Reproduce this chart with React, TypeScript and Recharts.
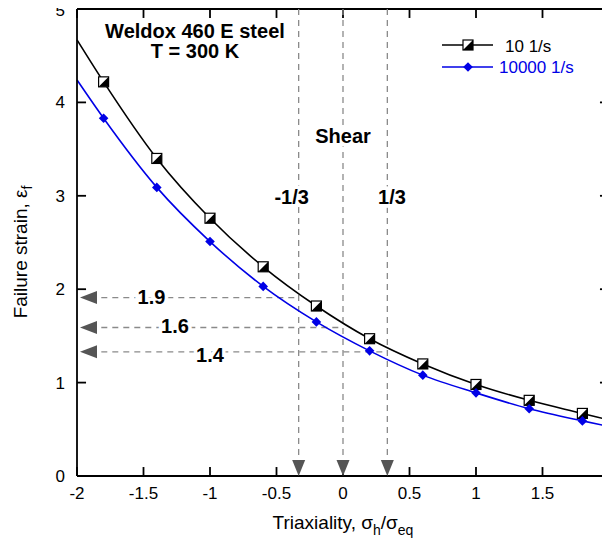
import React from "react"
import {
  ComposedChart,
  Line,
  XAxis,
  YAxis,
  ReferenceLine,
  ReferenceDot,
  Label,
} from "recharts"

// stress triaxiality where the curves are read (ends are fit-only, no marker)
const triaxiality = [-2, -1.8, -1.4, -1, -0.6, -0.2, 0.2, 0.6, 1, 1.4, 1.8, 2]
const strain10 = [4.67, 4.22, 3.4, 2.76, 2.24, 1.82, 1.47, 1.2, 0.98, 0.81, 0.67, 0.6]
const strain10000 = [4.24, 3.83, 3.09, 2.51, 2.03, 1.65, 1.34, 1.08, 0.89, 0.72, 0.59, 0.53]
const marked = [false, true, true, true, true, true, true, true, true, true, true, false]

const xTicks = [-2, -1.5, -1, -0.5, 0, 0.5, 1, 1.5, 2]
const yTicks = [0, 1, 2, 3, 4, 5]

// vertical guides (shear range) and horizontal read-off lines
const shearBounds = [-1 / 3, 0, 1 / 3]
const readoffLevels = [1.91, 1.59, 1.33]
const readoffLabels = ["1.9", "1.6", "1.4"]

const BLUE = "#0000e6"
const GUIDE = "#8a8a8a"
const ARROW = "#555555"
const FONT = "'Liberation Sans', Arial, Helvetica, sans-serif"
// inward tick length, in axis units (about 9px each way)
const X_TICK = 0.068
const Y_TICK = 0.096

const data = triaxiality.map((x, i) => ({
  x,
  slow: strain10[i],
  fast: strain10000[i],
}))

// annotation texts, placed in data coordinates
const notes = [
  { x: -1.113, y: 4.685, text: "Weldox 460 E steel" },
  { x: -1.113, y: 4.477, text: "T = 300 K" },
  { x: 0, y: 3.56, text: "Shear" },
  { x: -0.386, y: 2.913, text: "-1/3" },
  { x: 0.368, y: 2.913, text: "1/3" },
  { x: -1.44, y: 1.845, text: readoffLabels[0] },
  { x: -1.263, y: 1.531, text: readoffLabels[1] },
  { x: -1.0, y: 1.221, text: readoffLabels[2] },
]

function HalfSquare({ cx, cy }: { cx: number; cy: number }) {
  const h = 5
  return (
    <g>
      <rect x={cx - h} y={cy - h} width={2 * h} height={2 * h} fill="#fff" stroke="#000" strokeWidth={1.2} />
      <polygon points={`${cx + h},${cy - h} ${cx + h},${cy + h} ${cx - h},${cy + h}`} fill="#000" />
    </g>
  )
}

function Diamond({ cx, cy, color }: { cx: number; cy: number; color: string }) {
  const h = 4.8
  return <polygon points={`${cx},${cy - h} ${cx + h},${cy} ${cx},${cy + h} ${cx - h},${cy}`} fill={color} />
}

const slowDot = (p: any) =>
  marked[p.index] ? <HalfSquare key={p.index} cx={p.cx} cy={p.cy} /> : <g key={p.index} />
const fastDot = (p: any) =>
  marked[p.index] ? <Diamond key={p.index} cx={p.cx} cy={p.cy} color={BLUE} /> : <g key={p.index} />

const noteShape = (text: string) => (p: any) => (
  <text
    x={p.cx}
    y={p.cy}
    textAnchor="middle"
    fontSize={20}
    fontWeight="bold"
    fontFamily={FONT}
    fill="#000"
    stroke="#fff"
    strokeWidth={7}
    paintOrder="stroke"
  >
    {text}
  </text>
)

const downArrow = (p: any) => (
  <polygon points={`${p.cx - 6.5},${p.cy - 16} ${p.cx + 6.5},${p.cy - 16} ${p.cx},${p.cy}`} fill={ARROW} />
)
const leftArrow = (p: any) => (
  <polygon points={`${p.cx + 3},${p.cy} ${p.cx + 20},${p.cy - 6.5} ${p.cx + 20},${p.cy + 6.5}`} fill={ARROW} />
)

const frame = { stroke: "#000", strokeWidth: 1.8 }

export default function App() {
  return (
    <div style={{ position: "relative", margin: -8, width: 610, height: 546, overflow: "hidden", fontFamily: FONT }}>
      <ComposedChart width={640} height={546} data={data} margin={{ top: 9, right: 31, bottom: 0, left: 0 }}>
        <XAxis
          dataKey="x"
          type="number"
          domain={[-2, 2]}
          ticks={xTicks}
          height={70}
          tickSize={-9}
          tickLine={false}
          tickMargin={20}
          stroke="#000"
          strokeWidth={1.8}
          tick={{ fontSize: 17, fill: "#000", fontFamily: FONT }}
        >
          <Label
            content={(p: any) => {
              const vb = p.viewBox
              return (
                <text x={vb.x + vb.width / 2} y={vb.y + 53} textAnchor="middle" fontSize={19} fontFamily={FONT} fill="#000" stroke="none">
                  Triaxiality, σ<tspan dy={6} fontSize={14}>h</tspan>
                  <tspan dy={-6}>/σ</tspan>
                  <tspan dy={6} fontSize={14}>eq</tspan>
                </text>
              )
            }}
          />
        </XAxis>
        <YAxis
          type="number"
          domain={[0, 5]}
          ticks={yTicks}
          width={77}
          tickSize={-9}
          tickLine={false}
          tickMargin={21}
          stroke="#000"
          strokeWidth={1.8}
          tick={{ fontSize: 17, fill: "#000", fontFamily: FONT }}
        >
          <Label
            content={() => (
              <text x={27} y={252} transform="rotate(-90, 27, 252)" textAnchor="middle" fontSize={19} fontFamily={FONT} fill="#000" stroke="none">
                Failure strain, ε<tspan dy={5} fontSize={14}>f</tspan>
              </text>
            )}
          />
        </YAxis>

        {/* closing frame: top and right edges, plus inward ticks on all sides */}
        <ReferenceLine segment={[{ x: -2, y: 5 }, { x: 2, y: 5 }]} {...frame} />
        <ReferenceLine segment={[{ x: 2, y: 0 }, { x: 2, y: 5 }]} {...frame} />
        {xTicks.map((x) => (
          <ReferenceLine key={`tb${x}`} segment={[{ x, y: 0 }, { x, y: Y_TICK }]} {...frame} />
        ))}
        {xTicks.map((x) => (
          <ReferenceLine key={`tt${x}`} segment={[{ x, y: 5 }, { x, y: 5 - Y_TICK }]} {...frame} />
        ))}
        {yTicks.map((y) => (
          <ReferenceLine key={`tl${y}`} segment={[{ x: -2, y }, { x: -2 + X_TICK, y }]} {...frame} />
        ))}
        {yTicks.map((y) => (
          <ReferenceLine key={`tr${y}`} segment={[{ x: 2, y }, { x: 2 - X_TICK, y }]} {...frame} />
        ))}

        {shearBounds.map((x) => (
          <ReferenceLine
            key={`v${x}`}
            segment={[{ x, y: 5 }, { x, y: 0.17 }]}
            stroke={GUIDE}
            strokeWidth={1.3}
            strokeDasharray="6 5"
          />
        ))}
        {readoffLevels.map((y, i) => (
          <ReferenceLine
            key={`h${y}`}
            segment={[{ x: -1.9, y }, { x: shearBounds[i], y }]}
            stroke={GUIDE}
            strokeWidth={1.3}
            strokeDasharray="6 5"
          />
        ))}
        {shearBounds.map((x) => (
          <ReferenceDot key={`da${x}`} x={x} y={0} r={1} shape={downArrow} />
        ))}
        {readoffLevels.map((y) => (
          <ReferenceDot key={`la${y}`} x={-2} y={y} r={1} shape={leftArrow} />
        ))}
        {notes.map((n) => (
          <ReferenceDot key={n.text} x={n.x} y={n.y} r={1} shape={noteShape(n.text)} />
        ))}

        <Line
          dataKey="slow"
          type="monotone"
          stroke="#000"
          strokeWidth={1.6}
          dot={slowDot}
          activeDot={false}
          isAnimationActive={false}
        />
        <Line
          dataKey="fast"
          type="monotone"
          stroke={BLUE}
          strokeWidth={1.6}
          dot={fastDot}
          activeDot={false}
          isAnimationActive={false}
        />
      </ComposedChart>

      <svg width={610} height={100} style={{ position: "absolute", left: 0, top: 0 }}>
        <line x1={442} x2={493} y1={45} y2={45} stroke="#000" strokeWidth={1.6} />
        <HalfSquare cx={468} cy={45} />
        <text x={505} y={52} fontSize={17} fontFamily={FONT} fill="#000">10 1/s</text>
        <line x1={442} x2={493} y1={67} y2={67} stroke={BLUE} strokeWidth={1.6} />
        <Diamond cx={468} cy={67} color={BLUE} />
        <text x={499} y={73} fontSize={17} fontFamily={FONT} fill={BLUE}>10000 1/s</text>
      </svg>
    </div>
  )
}
